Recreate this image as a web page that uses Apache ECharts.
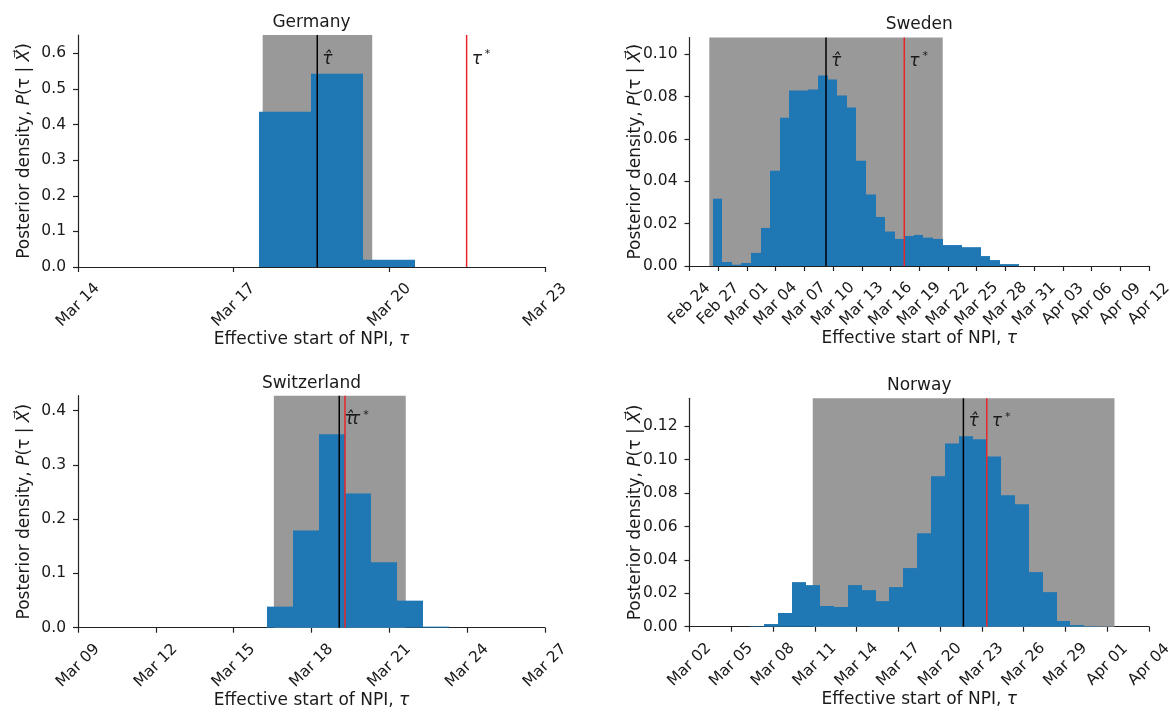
<!DOCTYPE html>
<html>
<head>
<meta charset="utf-8">
<script src="https://cdn.jsdelivr.net/npm/echarts@6/dist/echarts.min.js"></script>
<style>
html,body{margin:0;padding:0;background:#fff;}
#chart{width:1170px;height:713px;}
</style>
</head>
<body>
<div id="chart"></div>
<script>
// ---------------- DATA ----------------
const countries = ['Germany', 'Sweden', 'Switzerland', 'Norway'];
// x-axis windows
const axisStart = ['2020-03-14', '2020-02-24', '2020-03-09', '2020-03-02'];
const axisEnd   = ['2020-03-23', '2020-04-12', '2020-03-27', '2020-04-04'];
const xTickStepDays = 3;
// y ticks
const yTickStep = [0.1, 0.02, 0.1, 0.02];
const yTickDecimals = [1, 2, 1, 2];
// histograms: left edge of first bin, 1-day bins
const firstBinStart = ['2020-03-17T11:45', '2020-02-26T10:20', '2020-03-16T07:00', '2020-03-06T08:40'];
const binWidthDays = 1;
const germanyDensity = [0.436, 0.543, 0.0206];
const swedenDensity = [0.0318, 0.0019, 0.0006, 0.0014, 0.0062, 0.0180, 0.0450, 0.0701,
  0.0829, 0.0829, 0.0834, 0.0900, 0.0881, 0.0806, 0.0749, 0.0498, 0.0338, 0.0232,
  0.0163, 0.0128, 0.0142, 0.0147, 0.0134, 0.0128, 0.0099, 0.0099, 0.0089, 0.0089,
  0.0047, 0.0028, 0.0009, 0.0009];
const switzerlandDensity = [0.0388, 0.179, 0.356, 0.247, 0.1206, 0.0498, 0.002];
const norwayDensity = [0.0003, 0.0016, 0.0082, 0.0267, 0.0249, 0.0124, 0.0118, 0.0249,
  0.0219, 0.0153, 0.0237, 0.0351, 0.0560, 0.0901, 0.1098, 0.1140, 0.1122, 0.1020,
  0.0787, 0.0733, 0.0327, 0.0207, 0.0034, 0.0010, 0.0003, 0.0001];
const densities = [germanyDensity, swedenDensity, switzerlandDensity, norwayDensity];
// estimates
const tauHat  = ['2020-03-18T14:40', '2020-03-09T06:15', '2020-03-19T01:40', '2020-03-21T16:05'];
const tauStar = ['2020-03-21T11:45', '2020-03-17T10:30', '2020-03-19T07:00', '2020-03-23T08:25'];
// shaded credible interval
const credibleLow  = ['2020-03-17T13:25', '2020-02-26T01:40', '2020-03-16T13:10', '2020-03-10T20:25'];
const credibleHigh = ['2020-03-19T16:05', '2020-03-21T10:50', '2020-03-21T15:10', '2020-04-01T12:30'];

// ---------------- LAYOUT / STYLE ----------------
const grids = [
  {left: 78,    top: 35,    width: 467,   height: 232},
  {left: 689.5, top: 37.5,  width: 459.5, height: 228.5},
  {left: 78,    top: 395.7, width: 467,   height: 232},
  {left: 689.5, top: 398.3, width: 459.5, height: 228.4}
];
const FONT = 'DejaVu Sans';
const TXT = '#1a1a1a';
const AX = '#222222';
const BAR = '#1f77b4';
const BAND = '#999999';
const RED = '#e8262a';
const DAY = 86400000;
const MONTHS = ['Jan','Feb','Mar','Apr','May','Jun','Jul','Aug','Sep','Oct','Nov','Dec'];

function ms(s) { return Date.parse(s.length === 10 ? s + 'T00:00:00Z' : s + ':00Z'); }
function fmtDate(originMs, v) {
  const d = new Date(originMs + Math.round(v) * DAY);
  return MONTHS[d.getUTCMonth()] + ' ' + String(d.getUTCDate()).padStart(2, '0');
}

function renderBand(params, api) {
  const cs = params.coordSys;
  const x0 = api.coord([api.value(0), 0])[0];
  const x1 = api.coord([api.value(1), 0])[0];
  return {type: 'rect', shape: {x: x0, y: cs.y, width: x1 - x0, height: cs.height},
          style: {fill: BAND}};
}
function renderBar(params, api) {
  const p0 = api.coord([api.value(0), api.value(2)]);
  const p1 = api.coord([api.value(1), 0]);
  const xa = Math.round(p0[0]), xb = Math.round(p1[0]);
  return {type: 'rect', shape: {x: xa, y: p0[1], width: xb - xa, height: p1[1] - p0[1]},
          style: {fill: BAR}};
}
function renderMark(params, api) {
  const cs = params.coordSys;
  const x = api.coord([api.value(0), 0])[0];
  const kind = api.value(1);
  const txt = kind ? '{t|\u03c4}{s|*}' : '{t|\u03c4\u0302}';
  return {
    type: 'group',
    children: [
      {type: 'line', shape: {x1: x, y1: cs.y, x2: x, y2: cs.y + cs.height},
       style: {stroke: kind ? RED : '#000', lineWidth: 1.5}},
      {type: 'text', x: x + 5, y: cs.y + cs.height * 0.147,
       style: {
         text: txt, align: 'left', verticalAlign: 'bottom',
         rich: {
           t: {fontFamily: FONT, fontStyle: 'italic', fontSize: 17, lineHeight: 20, fill: TXT, color: TXT},
           s: {fontFamily: FONT, fontSize: 11, lineHeight: 12, verticalAlign: 'top', padding: [0, 0, 0, 3], fill: TXT, color: TXT}
         }
       }}
    ]
  };
}

const option = {
  animation: false,
  backgroundColor: '#fff',
  title: [], grid: [], xAxis: [], yAxis: [], series: []
};

countries.forEach((name, i) => {
  const g = grids[i];
  const origin = ms(axisStart[i]);
  const xMax = (ms(axisEnd[i]) - origin) / DAY;
  const dens = densities[i];
  const yMax = 1.2 * Math.max.apply(null, dens);
  const yTicks = [];
  for (let k = 0; k * yTickStep[i] <= yMax + 1e-9; k++) yTicks.push(+(k * yTickStep[i]).toFixed(6));
  const toDay = s => (ms(s) - origin) / DAY;

  option.title.push({
    text: name, left: g.left + g.width / 2, top: g.top - 21, textAlign: 'center', padding: 0,
    textStyle: {fontFamily: FONT, fontSize: 17, fontWeight: 'normal', color: TXT}
  });
  option.grid.push({left: g.left, top: g.top, width: g.width, height: g.height,
                    containLabel: false, outerBoundsMode: 'none'});
  option.xAxis.push({
    type: 'value', gridIndex: i, min: 0, max: xMax, interval: xTickStepDays,
    name: '{n|Effective start of NPI, }{i|\u03c4}', nameLocation: 'middle', nameGap: 64, nameMoveOverlap: false,
    nameTextStyle: {
      fontFamily: FONT, fontSize: 17, color: TXT,
      rich: {
        n: {fontFamily: FONT, fontSize: 17, color: TXT},
        i: {fontFamily: FONT, fontSize: 17, fontStyle: 'italic', color: TXT}
      }
    },
    axisLine: {show: true, onZero: false, lineStyle: {color: AX, width: 1.2}},
    axisTick: {show: true, length: 5, lineStyle: {color: AX, width: 1.2}},
    splitLine: {show: false},
    axisLabel: {
      rotate: 45, align: 'center', verticalAlign: 'middle', margin: 38,
      fontFamily: FONT, fontSize: 15.5, color: TXT,
      formatter: v => fmtDate(origin, v)
    }
  });
  option.yAxis.push({
    type: 'value', gridIndex: i, min: 0, max: yMax, interval: yTickStep[i],
    name: '{n|Posterior density, }{i|P}{n|(\u03c4 | }{i|X\u20d7}{n|)}',
    nameLocation: 'middle', nameGap: 45, nameRotate: 90, nameMoveOverlap: false,
    nameTextStyle: {
      fontFamily: FONT, fontSize: 17, color: TXT,
      rich: {
        n: {fontFamily: FONT, fontSize: 17, color: TXT},
        i: {fontFamily: FONT, fontSize: 17, fontStyle: 'italic', color: TXT}
      }
    },
    axisLine: {show: true, onZero: false, lineStyle: {color: AX, width: 1.2}},
    axisTick: {show: true, length: 5, customValues: yTicks, lineStyle: {color: AX, width: 1.2}},
    splitLine: {show: false},
    axisLabel: {
      customValues: yTicks, margin: 12, fontFamily: FONT, fontSize: 15.5, color: TXT,
      formatter: v => Number(v).toFixed(yTickDecimals[i])
    }
  });

  const b0 = toDay(firstBinStart[i]);
  const barData = dens.map((d, k) => [b0 + k * binWidthDays, b0 + (k + 1) * binWidthDays, d]);

  option.series.push({
    type: 'custom', xAxisIndex: i, yAxisIndex: i, z: 1, silent: true,
    renderItem: renderBand, encode: {x: [0, 1]},
    data: [[toDay(credibleLow[i]), toDay(credibleHigh[i])]]
  });
  option.series.push({
    type: 'custom', xAxisIndex: i, yAxisIndex: i, z: 2, silent: true,
    renderItem: renderBar, encode: {x: [0, 1], y: 2},
    data: barData
  });
  option.series.push({
    type: 'custom', xAxisIndex: i, yAxisIndex: i, z: 3, silent: true,
    renderItem: renderMark, encode: {x: 0},
    data: [[toDay(tauHat[i]), 0], [toDay(tauStar[i]), 1]]
  });
});

const chart = echarts.init(document.getElementById('chart'), null, {renderer: 'canvas'});
chart.setOption(option);
</script>
</body>
</html>
